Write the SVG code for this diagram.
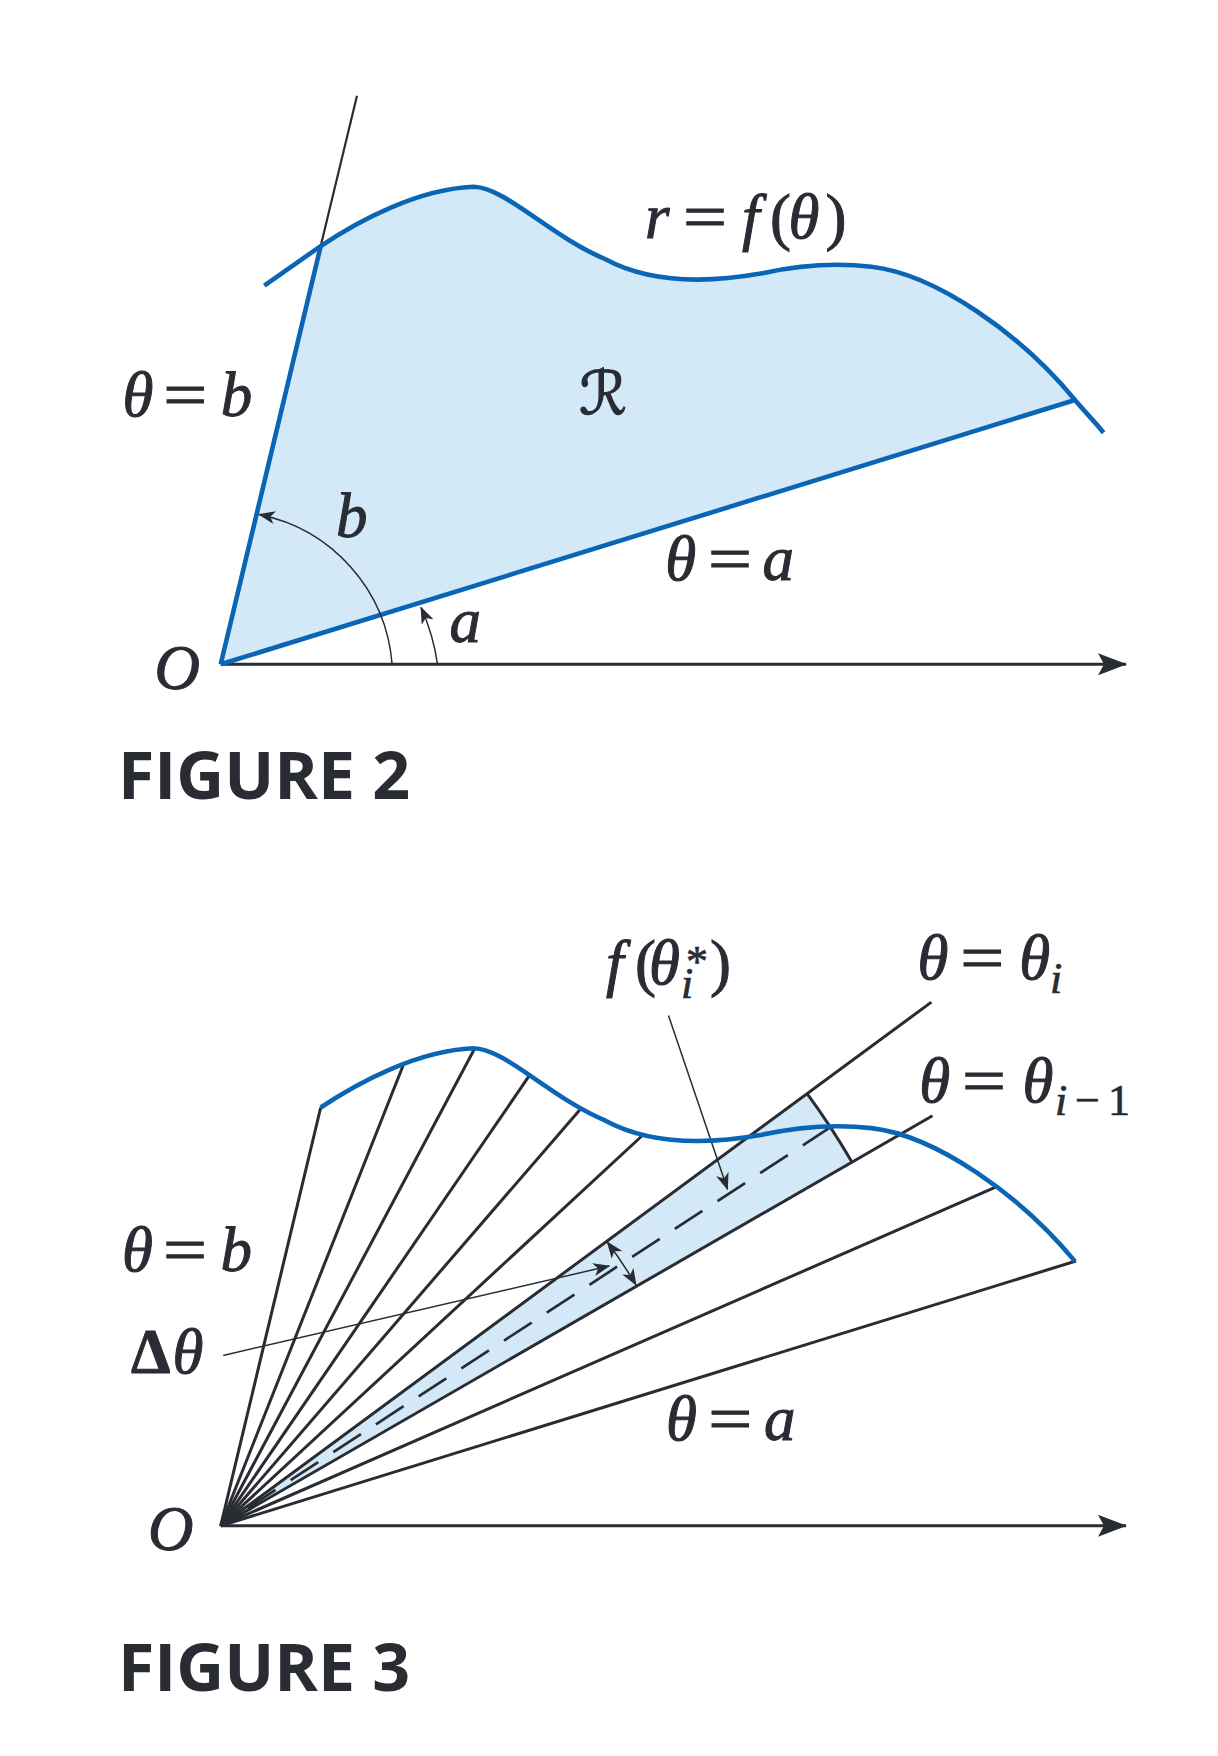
<svg xmlns="http://www.w3.org/2000/svg" width="1218" height="1756" viewBox="0 0 1218 1756">
<defs>
<style>
.lbl{font-family:"Liberation Serif","Times New Roman",serif;font-style:italic;font-size:63px;fill:#2a2c33;stroke:#2a2c33;stroke-width:1}
.up{font-style:normal}
.sub{font-size:44px;stroke-width:0.7}
.fig{font-family:"Open Sans","Liberation Sans",sans-serif;font-weight:700;font-size:67px;fill:#2a2c33}
.blue{stroke:#0a65b5;stroke-width:4.6;fill:none}
.ln{stroke:#2a2c33;stroke-width:3;fill:none}
.axis{stroke:#2a2c33;stroke-width:3;fill:none}
.thin{stroke:#2a2c33;stroke-width:1.5;fill:none}
.ext{stroke:#2a2c33;stroke-width:2.2;fill:none}
.shade{fill:#d3e9f7;stroke:none}
.dash{stroke:#2a2c33;stroke-width:2.7;fill:none;stroke-dasharray:33 18}
</style>
<marker id="ah" markerUnits="userSpaceOnUse" viewBox="0 0 17 13" markerWidth="17" markerHeight="13" refX="16" refY="6.5" orient="auto-start-reverse"><path d="M17,6.5 L0,0 L4.5,6.5 L0,13 Z" fill="#2a2c33"/></marker>
<marker id="axh" markerUnits="userSpaceOnUse" viewBox="0 0 29 22" markerWidth="29" markerHeight="22" refX="28" refY="11" orient="auto"><path d="M29,11 L0,0 L6,11 L0,22 Z" fill="#2a2c33"/></marker>
</defs>
<rect width="1218" height="1756" fill="#ffffff"/>

<g id="figure2">
  <g id="fig2-region">
    <path class="shade" d="M220.7,664.3 L320.7,246.1 C358,221 418,189 473.2,186.8 C505,187 550,236 605,259 C640,278 690,286 760.7,273.6 C795,266 830,262 871.4,266.7 C935,274 1020,333 1075,400 Z"/>
  </g>
  <g id="fig2-connectors">
    <path class="axis" d="M220.7,664.3 L1126,664.3" marker-end="url(#axh)"/>
    <path class="ext" d="M320.7,246.1 L357,95.8"/>
    <path class="blue" d="M220.7,664.3 L320.7,246.1"/>
    <path class="blue" d="M220.7,664.3 L1075,400"/>
    <path class="thin" d="M392.1,664.3 A166,166 0 0,0 259,514.5" marker-end="url(#ah)"/>
    <path class="thin" d="M437.5,664.3 A205,205 0 0,0 421,607.5" marker-end="url(#ah)"/>
  </g>
  <g id="fig2-curve">
    <path class="blue" d="M264.3,285.6 L320.7,246.1 C358,221 418,189 473.2,186.8 C505,187 550,236 605,259 C640,278 690,286 760.7,273.6 C795,266 830,262 871.4,266.7 C935,274 1020,333 1075,400 C1085,412 1095,422 1103.6,432.7"/>
  </g>
  <g id="fig2-labels">
    <text class="lbl" x="122.5" y="416">θ</text>
    <text class="lbl up" x="163.3" y="416" textLength="44" lengthAdjust="spacingAndGlyphs">=</text>
    <text class="lbl" x="220.7" y="416">b</text>
    <text x="603" y="414" text-anchor="middle" style="font-family:'DejaVu Serif','DejaVu Sans',serif;font-size:60px;fill:#2a2c33;stroke:#2a2c33;stroke-width:1.2">ℛ</text>
    <text class="lbl" x="336" y="536.7">b</text>
    <text class="lbl" x="449.5" y="641.5">a</text>
    <text class="lbl" x="154.5" y="689">O</text>
    <text class="lbl" x="645" y="237.5">r</text>
    <text class="lbl up" x="683" y="237.5" textLength="44" lengthAdjust="spacingAndGlyphs">=</text>
    <text class="lbl"><tspan x="742" y="237.5">f</tspan><tspan class="up" x="770" y="237.5">(</tspan><tspan x="788.5" y="237.5">θ</tspan><tspan class="up" x="825.5" y="237.5">)</tspan></text>
    <text class="lbl" x="665.2" y="580">θ</text>
    <text class="lbl up" x="708" y="580" textLength="44" lengthAdjust="spacingAndGlyphs">=</text>
    <text class="lbl" x="762.5" y="580">a</text>
  </g>
  <text id="fig2-caption" class="fig" x="118" y="798.5" textLength="292" lengthAdjust="spacingAndGlyphs">FIGURE 2</text>
</g>

<g id="figure3">
  <g id="fig3-sector">
    <path class="shade" d="M220.7,1525.8 L807.1,1093.6 A728.5,728.5 0 0,1 851.9,1162.1 Z"/>
  </g>
  <g id="fig3-connectors">
    <path class="axis" d="M220.7,1525.8 L1126,1525.8" marker-end="url(#axh)"/>
    <path class="ln" d="M220.7,1525.8 L320.7,1107.5"/>
    <path class="ln" d="M220.7,1525.8 L404.3,1062.5"/>
    <path class="ln" d="M220.7,1525.8 L474.3,1049.3"/>
    <path class="ln" d="M220.7,1525.8 L529.3,1075.7"/>
    <path class="ln" d="M220.7,1525.8 L581.4,1107.9"/>
    <path class="ln" d="M220.7,1525.8 L642.9,1135"/>
    <path class="ln" d="M220.7,1525.8 L931.4,1002.1"/>
    <path class="ln" d="M220.7,1525.8 L932.5,1115.7"/>
    <path class="ln" d="M220.7,1525.8 L997.9,1186.1"/>
    <path class="ln" d="M220.7,1525.8 L1076,1261"/>
    <path class="ln" d="M807.1,1093.6 A728.5,728.5 0 0,1 851.9,1162.1"/>
    <path class="dash" d="M830.5,1127.2 L220.7,1525.8"/>
    <path class="thin" d="M607.3,1242 A480,480 0 0,1 636,1285" marker-start="url(#ah)" marker-end="url(#ah)"/>
    <path class="thin" d="M223.2,1355.4 L609.3,1266" marker-end="url(#ah)"/>
    <path class="thin" d="M668.5,1015.5 L727.5,1189.3" marker-end="url(#ah)"/>
  </g>
  <g id="fig3-curve">
    <path class="blue" transform="translate(0,861.4)" d="M320.7,246.1 C358,221 418,189 473.2,186.8 C505,187 550,236 605,259 C640,278 690,286 760.7,273.6 C795,266 830,262 871.4,266.7 C935,274 1020,333 1075,400"/>
  </g>
  <g id="fig3-labels">
    <text class="lbl" x="122" y="1271">θ</text>
    <text class="lbl up" x="163" y="1271" textLength="44" lengthAdjust="spacingAndGlyphs">=</text>
    <text class="lbl" x="220.5" y="1271">b</text>
    <text class="lbl"><tspan class="up" x="131" y="1373" font-weight="700">Δ</tspan><tspan x="172.5" y="1373">θ</tspan></text>
    <text class="lbl" x="148" y="1550">O</text>
    <text class="lbl" x="666" y="1440">θ</text>
    <text class="lbl up" x="708.3" y="1440" textLength="44" lengthAdjust="spacingAndGlyphs">=</text>
    <text class="lbl" x="764" y="1440">a</text>
    <text class="lbl"><tspan x="606" y="984">f</tspan><tspan class="up" x="635" y="984">(</tspan><tspan x="649" y="984">θ</tspan><tspan class="sub" x="681" y="997.5">i</tspan><tspan class="up sub" x="686" y="976">*</tspan><tspan class="up" x="710" y="984">)</tspan></text>
    <text class="lbl" x="917.4" y="979">θ</text>
    <text class="lbl up" x="960.2" y="979" textLength="44" lengthAdjust="spacingAndGlyphs">=</text>
    <text class="lbl"><tspan x="1019.2" y="979">θ</tspan><tspan class="sub" x="1050" y="993">i</tspan></text>
    <text class="lbl" x="919.2" y="1102">θ</text>
    <text class="lbl up" x="961.9" y="1102" textLength="44" lengthAdjust="spacingAndGlyphs">=</text>
    <text class="lbl"><tspan x="1022.6" y="1102">θ</tspan><tspan class="sub" x="1055" y="1114.6">i</tspan><tspan class="up sub" x="1075" y="1114.6">−</tspan><tspan class="up sub" x="1108" y="1114.6">1</tspan></text>
  </g>
  <text id="fig3-caption" class="fig" x="118" y="1690.5" textLength="292" lengthAdjust="spacingAndGlyphs">FIGURE 3</text>
</g>
</svg>
